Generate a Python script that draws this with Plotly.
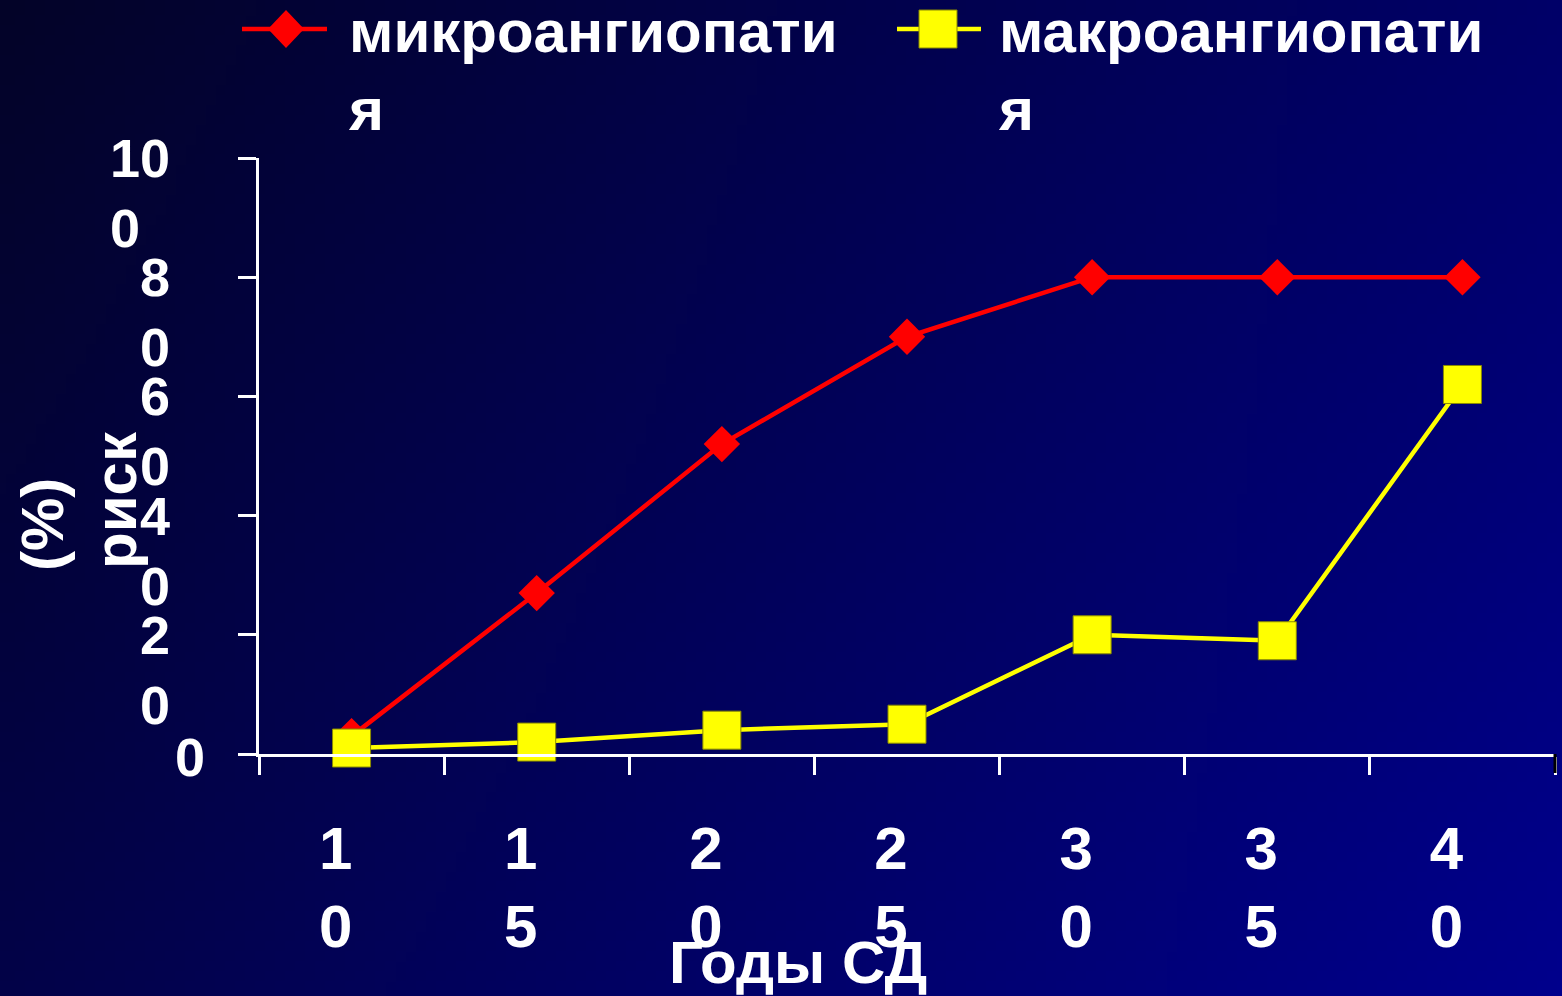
import base64
import struct
import zlib

import numpy as np
import plotly.graph_objects as go

# ---- data ----
years = ["10", "15", "20", "25", "30", "35", "40"]
year_labels = ["1<br>0", "1<br>5", "2<br>0", "2<br>5", "3<br>0", "3<br>5", "4<br>0"]
micro_risk = [3, 27, 52, 70, 80, 80, 80]
macro_risk = [1, 2, 4, 5, 20, 19, 62]
risk_ticks = [0, 20, 40, 60, 80, 100]
risk_labels = ["0", "2<br>0", "4<br>0", "6<br>0", "8<br>0", "10<br>0"]
series_names = ["микроангиопати<br>я", "макроангиопати<br>я"]
x_title = "Годы СД"
y_title_lines = ["риск", "(%)"]

# ---- page geometry ----
W, H = 1562, 996
ML, MR, MT, MB = 259, 7, 158, 242
PW, PH = W - ML - MR, H - MT - MB


def px(x):
    return (x - ML) / PW


def py(y):
    return (H - MB - y) / PH


RED = "#ff0000"
YELLOW = "#ffff00"
WHITE = "#ffffff"
FONT = "Liberation Sans, Arial, sans-serif"


def gradient_png(w, h):
    fx = np.linspace(0, 1, w)[None, :, None]
    fy = np.linspace(0, 1, h)[:, None, None]
    tl = np.array([3, 3, 40])
    tr = np.array([0, 0, 104])
    bl = np.array([2, 2, 72])
    br = np.array([0, 0, 140])
    img = (tl * (1 - fx) * (1 - fy) + tr * fx * (1 - fy)
           + bl * (1 - fx) * fy + br * fx * fy).round().astype(np.uint8)
    raw = b"".join(b"\x00" + img[j].tobytes() for j in range(h))

    def chunk(tag, data):
        body = tag + data
        return struct.pack(">I", len(data)) + body + struct.pack(">I", zlib.crc32(body) & 0xFFFFFFFF)

    png = (b"\x89PNG\r\n\x1a\n"
           + chunk(b"IHDR", struct.pack(">IIBBBBB", w, h, 8, 2, 0, 0, 0))
           + chunk(b"IDAT", zlib.compress(raw, 9))
           + chunk(b"IEND", b""))
    return "data:image/png;base64," + base64.b64encode(png).decode()


fig = go.Figure()

fig.add_trace(go.Scatter(
    x=years, y=micro_risk, mode="lines+markers", name=series_names[0],
    line=dict(color=RED, width=4.5),
    marker=dict(symbol="diamond", size=28, color=RED),
    cliponaxis=False, showlegend=False,
))
fig.add_trace(go.Scatter(
    x=years, y=macro_risk, mode="lines+markers", name=series_names[1],
    line=dict(color=YELLOW, width=4.5),
    marker=dict(symbol="square", size=38, color=YELLOW,
                line=dict(color="#8a8a00", width=1)),
    cliponaxis=False, showlegend=False,
))

annotations = []

# value-axis labels, each wrapped onto two lines
for v, t in zip(risk_ticks, risk_labels):
    if "<br>" in t:
        annotations.append(dict(
            x=px(172), xref="paper", xanchor="right", align="left",
            y=v, yref="y", yanchor="middle", yshift=-35,
            text=t, showarrow=False,
            font=dict(family=FONT, size=54, color=WHITE, weight="bold"),
        ))
    else:
        annotations.append(dict(
            x=px(207), xref="paper", xanchor="right",
            y=v, yref="y", yanchor="middle", yshift=-3,
            text=t, showarrow=False,
            font=dict(family=FONT, size=54, color=WHITE, weight="bold"),
        ))

# axis titles
annotations.append(dict(
    x=px(798), y=py(962), xref="paper", yref="paper",
    xanchor="center", yanchor="middle", text=x_title, showarrow=False,
    font=dict(family=FONT, size=60, color=WHITE, weight="bold"),
))
annotations.append(dict(
    x=px(115), y=py(500), xref="paper", yref="paper",
    xanchor="center", yanchor="middle", textangle=-90,
    text=y_title_lines[0], showarrow=False,
    font=dict(family=FONT, size=60, color=WHITE, weight="bold"),
))
annotations.append(dict(
    x=px(42), y=py(525), xref="paper", yref="paper",
    xanchor="center", yanchor="middle", textangle=-90,
    text=y_title_lines[1], showarrow=False,
    font=dict(family=FONT, size=60, color=WHITE, weight="bold"),
))

# legend entries
legend_items = [
    dict(name=series_names[0], color=RED, x0=242, x1=327, cx=286, tx=346, shape="diamond"),
    dict(name=series_names[1], color=YELLOW, x0=897, x1=981, cx=938, tx=996, shape="square"),
]
shapes = []
LY = 29
for it in legend_items:
    shapes.append(dict(
        type="line", xref="paper", yref="paper",
        x0=px(it["x0"]), x1=px(it["x1"]), y0=py(LY), y1=py(LY),
        line=dict(color=it["color"], width=4.5),
    ))
    if it["shape"] == "diamond":
        cx, hw, hh = it["cx"], 18, 19
        path = (f"M {px(cx - hw)} {py(LY)} L {px(cx)} {py(LY - hh)} "
                f"L {px(cx + hw)} {py(LY)} L {px(cx)} {py(LY + hh)} Z")
        shapes.append(dict(type="path", xref="paper", yref="paper", path=path,
                           fillcolor=it["color"], line=dict(width=0)))
    else:
        cx, hs = it["cx"], 19
        shapes.append(dict(type="rect", xref="paper", yref="paper",
                           x0=px(cx - hs), x1=px(cx + hs), y0=py(LY + hs), y1=py(LY - hs),
                           fillcolor=it["color"], line=dict(color="#8a8a00", width=1)))
    annotations.append(dict(
        x=px(it["tx"]), y=py(70), xref="paper", yref="paper",
        xanchor="left", yanchor="middle", align="left",
        text=it["name"], showarrow=False,
        font=dict(family=FONT, size=60, color=WHITE, weight="bold"),
    ))

# dark end-cap on the category axis' last boundary tick
shapes.append(dict(type="line", xref="paper", yref="paper",
                   x0=1.0, x1=1.0, y0=py(754), y1=py(773),
                   line=dict(color="#000000", width=3)))

fig.update_layout(
    width=W, height=H, autosize=False,
    margin=dict(l=ML, r=MR, t=MT, b=MB, pad=0, autoexpand=False),
    paper_bgcolor="#02024e", plot_bgcolor="rgba(0,0,0,0)",
    showlegend=False,
    images=[dict(
        source=gradient_png(156, 100), xref="paper", yref="paper",
        x=px(0), y=py(0), sizex=W / PW, sizey=H / PH,
        xanchor="left", yanchor="top", sizing="stretch", layer="below",
    )],
    annotations=annotations,
    shapes=shapes,
    xaxis=dict(
        type="category", range=[-0.5, 6.5],
        tickmode="array", tickvals=years, ticktext=year_labels,
        tickson="boundaries", ticks="outside", ticklen=18, tickwidth=2.5,
        tickcolor=WHITE, showline=True, linecolor=WHITE, linewidth=2.5,
        showgrid=False, zeroline=False,
        tickfont=dict(family=FONT, size=60, color=WHITE, weight="bold"),
        ticklabelshift=-16, ticklabelstandoff=40,
    ),
    yaxis=dict(
        range=[0, 100], tickmode="array", tickvals=risk_ticks,
        ticks="outside", ticklen=18, tickwidth=2.5, tickcolor=WHITE,
        showticklabels=False, showline=True, linecolor=WHITE, linewidth=2.5,
        showgrid=False, zeroline=False,
    ),
)

fig.write_html("out.html")
